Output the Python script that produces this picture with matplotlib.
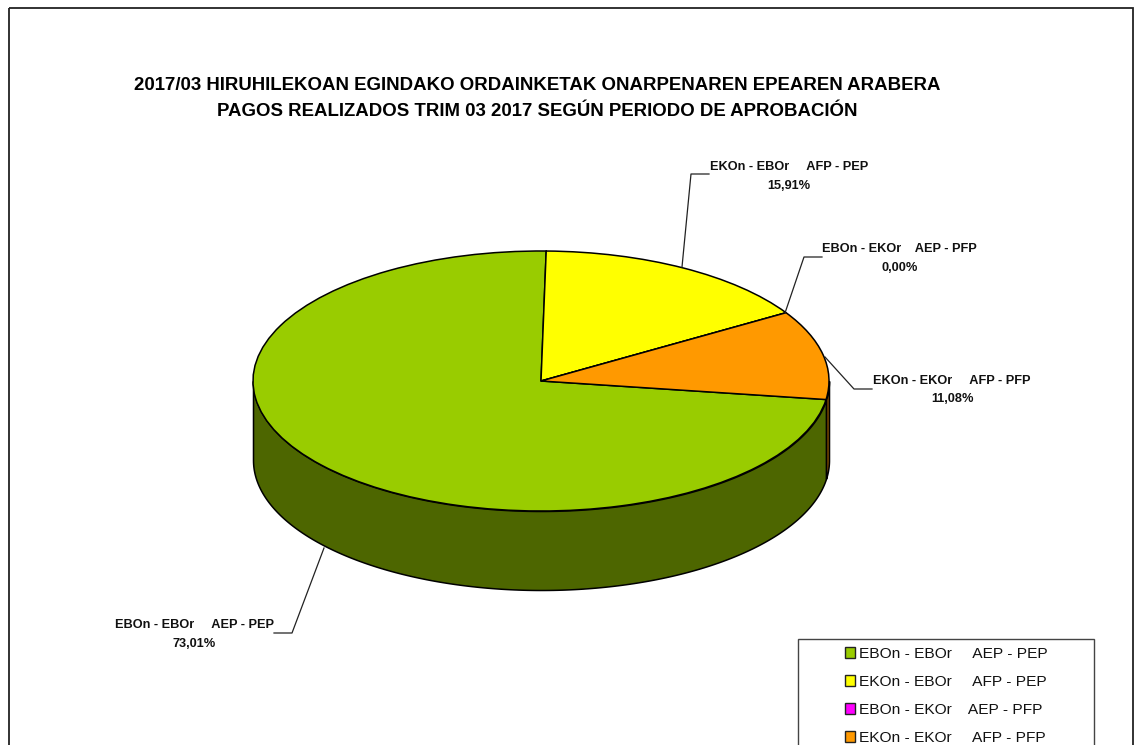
import numpy as np
import matplotlib
matplotlib.use('Agg')
import matplotlib.pyplot as plt
from matplotlib.patches import Patch, Rectangle

plt.rcParams['font.family'] = ['Liberation Sans', 'DejaVu Sans']

title1 = '2017/03 HIRUHILEKOAN EGINDAKO ORDAINKETAK ONARPENAREN EPEAREN ARABERA'
title2 = 'PAGOS REALIZADOS TRIM 03 2017 SEGÚN PERIODO DE APROBACIÓN'
categories = ['EBOn - EBOr     AEP - PEP',
              'EKOn - EBOr     AFP - PEP',
              'EBOn - EKOr    AEP - PFP',
              'EKOn - EKOr     AFP - PFP']
values = [73.01, 15.91, 0.00, 11.08]
colors = ['#99CC00', '#FFFF00', '#FF00FF', '#FF9900']
sideColors = ['#4D6600', '#808000', '#800080', '#804D00']

W, H = 1135, 745
cx, cy = 541, 381   # pie centre in pixels
rx, ry = 288, 130   # ellipse half axes
depth = 79 / ry
start = 98.2        # clockwise from top, where the first slice begins

fig = plt.figure(figsize=(W/100, H/100), dpi=100, facecolor='white')

# pie axes: one data unit is the ellipse radius, squashed by the axes limits
ax = fig.add_axes([0, 0, 1, 1], zorder=1)
ax.patch.set_alpha(0)

# side wall, only the front half of the rim shows
ang = start
for val, side in zip(values, sideColors):
    end = ang + val*3.6
    for shift in (0, -360):
        lo = max(ang + shift, 90)
        hi = min(end + shift, 270)
        if hi > lo:
            t = np.radians(np.linspace(lo, hi, 200))
            ax.fill_between(np.sin(t), np.cos(t), np.cos(t) - depth,
                            facecolor=side, edgecolor='black', linewidth=1.1)
    ang = end

ax.pie(values, colors=colors, startangle=90 - start, counterclock=False,
       radius=1, wedgeprops={'edgecolor': 'black', 'linewidth': 1.1})
ax.set_aspect('auto')
ax.set_xlim((0 - cx)/rx, (W - cx)/rx)
ax.set_ylim((cy - H)/ry, cy/ry)
ax.axis('off')

# overlay in pixel coordinates for frame, title, leaders and legend
over = fig.add_axes([0, 0, 1, 1], zorder=2)
over.set_xlim(0, W)
over.set_ylim(H, 0)
over.axis('off')
over.add_patch(Rectangle((9, 8), 1124, 760, facecolor='none', edgecolor='#222222',
                         linewidth=1.3, clip_on=True))
over.text(537, 85, title1, ha='center', va='center', fontsize=13.45, fontweight='bold')
over.text(537.5, 111, title2, ha='center', va='center', fontsize=13.45, fontweight='bold')

labelPos = [(194.5, 634.5), (789, 176.5), (899.5, 258.5), (952, 390)]
leaders = [[(324, 548), (292, 633), (274, 633)],
           [(682, 267), (691, 174), (709, 174)],
           [(785, 313), (804, 257), (822, 257)],
           [(825, 357), (854, 389), (872, 389)]]
for name, val, pos, pts in zip(categories, values, labelPos, leaders):
    txt = name + '\n' + ('%.2f' % val).replace('.', ',') + '%'
    over.text(pos[0], pos[1], txt, ha='center', va='center', fontsize=9.2,
              fontweight='bold', linespacing=1.75, color='#111111')
    xs, ys = zip(*pts)
    over.plot(xs, ys, color='#222222', linewidth=0.9)

over.add_patch(Rectangle((798, 639), 296, 130, facecolor='white', edgecolor='#444444',
                         linewidth=1.0))
handles = [Patch(facecolor=c, edgecolor='#222222', linewidth=1.0, label=n)
           for c, n in zip(colors, categories)]
over.legend(handles=handles, loc='upper left', bbox_to_anchor=(845, 647),
            bbox_transform=over.transData, frameon=False, fontsize=11.15,
            borderpad=0, borderaxespad=0, handlelength=0.65, handleheight=0.65,
            handletextpad=0.27, labelspacing=0.9, labelcolor='#111111')

fig.savefig('out.png', dpi=100)
